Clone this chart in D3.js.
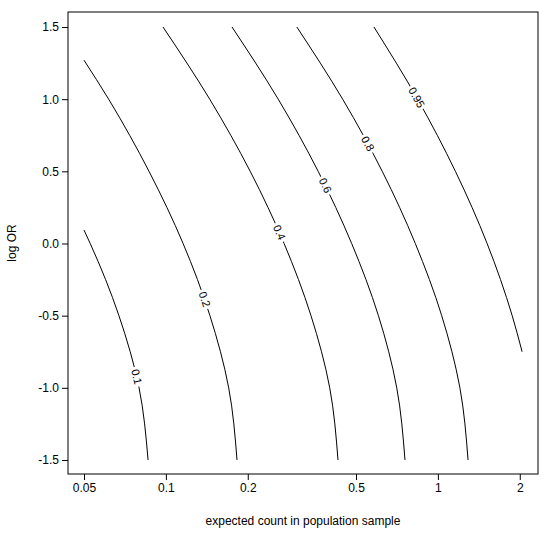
<!DOCTYPE html><html><head><meta charset="utf-8"><script src="https://cdn.jsdelivr.net/npm/d3@7"></script>
<style>body{margin:0;background:#fff}text{font-family:"Liberation Sans",Arial,sans-serif}</style></head><body><svg id="c" width="550" height="537"></svg><script>
const xTicks=[0.05,0.1,0.2,0.5,1,2];
const yTicks=[-1.5,-1.0,-0.5,0.0,0.5,1.0,1.5];
const levels=["0.1","0.2","0.4","0.6","0.8","0.95"];
const cx=[[0.05,0.0527,0.0672,0.0797,0.086],
[0.05,0.0616,0.0867,0.1157,0.1452,0.1702,0.1826],
[0.0976,0.1449,0.2042,0.272,0.3416,0.4003,0.4293],
[0.175,0.2588,0.363,0.482,0.6045,0.706,0.757],
[0.303,0.4466,0.6245,0.826,1.033,1.205,1.291],
[0.582,0.8424,1.16,1.517,1.876,2.04]];
const cy=[[0.093,0,-0.5,-1,-1.5],
[1.27,1,0.5,0,-0.5,-1,-1.5],
[1.5,1,0.5,0,-0.5,-1,-1.5],
[1.5,1,0.5,0,-0.5,-1,-1.5],
[1.5,1,0.5,0,-0.5,-1,-1.5],
[1.5,1,0.5,0,-0.5,-0.75]];
const labelPos=[0.65,0.62,0.5,0.39,0.29,0.23];
const svg=d3.select("#c");
const L=68,R=538,T=12,B=474;
const x=d3.scaleLog().domain([0.05*Math.pow(10,-16/272),0.05*Math.pow(10,(538-84)/272)]).range([L,R]);
const y=d3.scaleLinear().domain([1.5-(B-27)/144.33,1.5+(27-T)/144.33]).range([B,T]);
svg.append("rect").attr("x",L).attr("y",T).attr("width",R-L).attr("height",B-T).attr("fill","none").attr("stroke","#000");
const line=d3.line().x(d=>x(d[0])).y(d=>y(d[1])).curve(d3.curveMonotoneY);
levels.forEach((lv,i)=>{
 const pts=cx[i].map((v,j)=>[v,cy[i][j]]);
 const p=svg.append("path").attr("d",line(pts)).attr("fill","none").attr("stroke","#000").attr("stroke-width",1);
 const n=p.node(),len=n.getTotalLength(),l=len*labelPos[i];
 const a=n.getPointAtLength(l-3),b=n.getPointAtLength(l+3),m=n.getPointAtLength(l);
 const ang=Math.atan2(b.y-a.y,b.x-a.x)*180/Math.PI;
 const g=svg.append("g").attr("transform",`translate(${m.x},${m.y}) rotate(${ang})`);
 const w=lv.length*6+2;
 g.append("rect").attr("x",-w/2).attr("y",-6).attr("width",w).attr("height",12).attr("fill","#fff");
 g.append("text").attr("text-anchor","middle").attr("dy","0.35em").attr("font-size",11).text(lv);
});
const ax=svg.append("g").attr("transform",`translate(0,${B})`).call(d3.axisBottom(x).tickValues(xTicks).tickFormat(d=>String(d)).tickSizeOuter(0).tickSize(6));
const ay=svg.append("g").attr("transform",`translate(${L},0)`).call(d3.axisLeft(y).tickValues(yTicks).tickFormat(d=>d.toFixed(1)).tickSizeOuter(0).tickSize(6));
[ax,ay].forEach(a=>{a.select(".domain").remove();a.selectAll("text").attr("font-size",12).attr("font-family","Liberation Sans, Arial");});
svg.append("text").attr("x",(L+R)/2).attr("y",525).attr("text-anchor","middle").attr("font-size",12).text("expected count in population sample");
svg.append("text").attr("transform",`translate(16,${(T+B)/2}) rotate(-90)`).attr("text-anchor","middle").attr("font-size",12).text("log OR");
</script></body></html>
